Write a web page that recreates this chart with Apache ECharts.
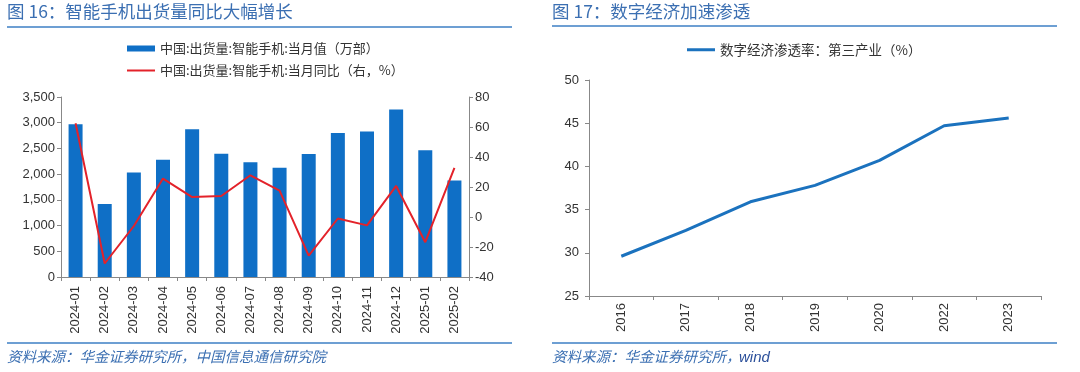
<!DOCTYPE html>
<html><head><meta charset="utf-8">
<script src="https://cdn.jsdelivr.net/npm/echarts@6/dist/echarts.min.js"></script>
<style>html,body{margin:0;padding:0;background:#fff}#c{width:1080px;height:372px}</style>
</head><body><div id="c"></div>
<script>
const months = ['2024-01','2024-02','2024-03','2024-04','2024-05','2024-06','2024-07','2024-08','2024-09','2024-10','2024-11','2024-12','2025-01','2025-02'];
const shipments = [2970,1420,2030,2280,2875,2395,2230,2125,2390,2800,2830,3255,2465,1875];
const yoy = [62.5,-31,-6,25.6,13.3,14,27.8,17.6,-25.7,-1,-5.6,20.7,-16.8,32.7];
const years = ['2016','2017','2018','2019','2020','2022','2023'];
const penetration = [29.6,32.6,35.9,37.8,40.7,44.7,45.6];
const leftTicks = [0,3500,500];
const rightTicks = [-40,80,20];
const penTicks = [25,50,5];

const nameBar = '中国:出货量:智能手机:当月值（万部）';
const nameLine = '中国:出货量:智能手机:当月同比（右，%）';
const namePen = '数字经济渗透率：第三产业（%）';
const cjk = '"Noto Sans CJK SC", sans-serif';
const num = '"Liberation Sans", Arial, sans-serif';
const titleColor = '#3b6fb2';
const axisColor = '#888';

const chart = echarts.init(document.getElementById('c'));
const axisCommon = {
  axisLine:{show:true,lineStyle:{color:axisColor,width:1}},
  axisTick:{show:true,length:4,lineStyle:{color:axisColor}},
  splitLine:{show:false},
  axisLabel:{color:'#333',fontSize:13,fontFamily:num}
};
chart.setOption({
  animation:false,
  textStyle:{fontFamily:cjk},
  graphic:[
    {type:'text',left:7,top:3,style:{text:'图 16：智能手机出货量同比大幅增长',font:'17.5px '+cjk,fill:titleColor}},
    {type:'line',shape:{x1:7,y1:27,x2:512,y2:27},style:{stroke:'#3d7fc4',lineWidth:1.5}},
    {type:'line',shape:{x1:7,y1:343,x2:512,y2:343},style:{stroke:'#3d7fc4',lineWidth:1.5}},
    {type:'text',left:7,top:349,style:{text:'资料来源：华金证券研究所，中国信息通信研究院',font:'italic 14.5px '+cjk,fill:titleColor}},
    {type:'text',left:552,top:3,style:{text:'图 17：数字经济加速渗透',font:'17.5px '+cjk,fill:titleColor}},
    {type:'line',shape:{x1:552,y1:26,x2:1057,y2:26},style:{stroke:'#3d7fc4',lineWidth:1.5}},
    {type:'line',shape:{x1:552,y1:343,x2:1057,y2:343},style:{stroke:'#3d7fc4',lineWidth:1.5}},
    {type:'text',left:552,top:349,style:{text:'资料来源：华金证券研究所，',font:'italic 14.5px '+cjk,fill:titleColor}},
    {type:'text',left:739,top:350,style:{text:'wind',font:'italic 15px '+num,fill:'#2b4f9a'}}
  ],
  legend:[
    {data:[nameBar],left:127,top:42,padding:0,itemWidth:28,itemHeight:6,icon:'rect',itemGap:5,
     textStyle:{fontSize:13,color:'#333',fontFamily:cjk}},
    {data:[nameLine],left:127,top:64,padding:0,itemWidth:28,itemHeight:2,icon:'rect',
     textStyle:{fontSize:13,color:'#333',fontFamily:cjk}},
    {data:[namePen],left:687,top:43,padding:0,itemWidth:28,itemHeight:3,icon:'rect',
     textStyle:{fontSize:13.5,color:'#333',fontFamily:cjk}}
  ],
  grid:[
    {left:61,right:611,top:97,bottom:95,containLabel:false},
    {left:589,right:39,top:80,bottom:76,containLabel:false}
  ],
  xAxis:[
    Object.assign({},axisCommon,{type:'category',gridIndex:0,data:months,
      axisLabel:Object.assign({},axisCommon.axisLabel,{rotate:90,margin:9,interval:0})}),
    Object.assign({},axisCommon,{type:'category',gridIndex:1,data:years,
      axisLabel:Object.assign({},axisCommon.axisLabel,{rotate:90,margin:7,interval:0})})
  ],
  yAxis:[
    Object.assign({},axisCommon,{type:'value',gridIndex:0,min:leftTicks[0],max:leftTicks[1],interval:leftTicks[2],
      axisLabel:Object.assign({},axisCommon.axisLabel,{margin:6,formatter:v=>v.toLocaleString('en-US')})}),
    Object.assign({},axisCommon,{type:'value',gridIndex:0,position:'right',min:rightTicks[0],max:rightTicks[1],interval:rightTicks[2],
      axisLabel:Object.assign({},axisCommon.axisLabel,{margin:6})}),
    Object.assign({},axisCommon,{type:'value',gridIndex:1,min:penTicks[0],max:penTicks[1],interval:penTicks[2],
      axisLabel:Object.assign({},axisCommon.axisLabel,{margin:10})})
  ],
  series:[
    {name:nameBar,type:'bar',xAxisIndex:0,yAxisIndex:0,data:shipments,barWidth:14,itemStyle:{color:'#0f6fc6'}},
    {name:nameLine,type:'line',xAxisIndex:0,yAxisIndex:1,data:yoy,showSymbol:false,symbol:'none',
      lineStyle:{color:'#e3222a',width:2},itemStyle:{color:'#e3222a'}},
    {name:namePen,type:'line',xAxisIndex:1,yAxisIndex:2,data:penetration,showSymbol:false,symbol:'none',
      lineStyle:{color:'#1b72be',width:3},itemStyle:{color:'#1b72be'}}
  ]
});
</script></body></html>
